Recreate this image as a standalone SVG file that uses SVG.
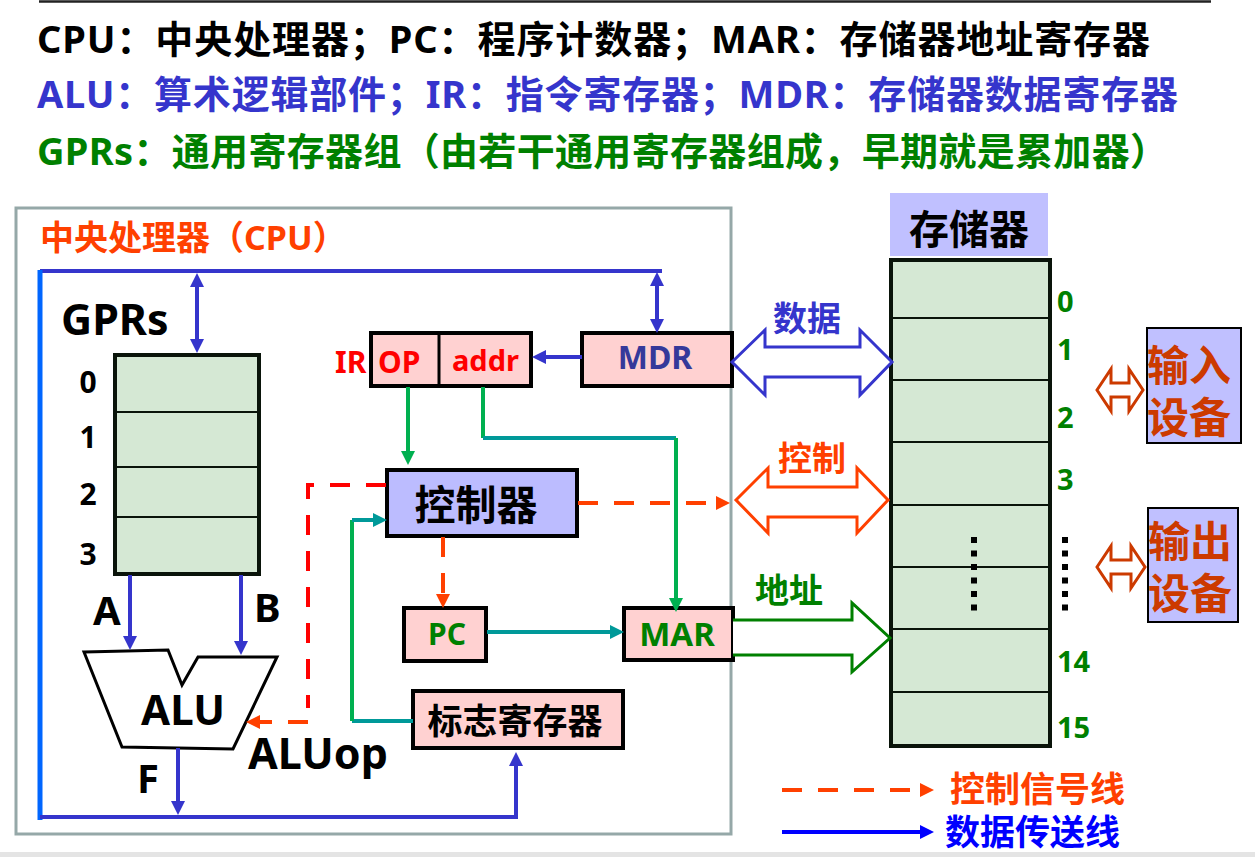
<svg xmlns="http://www.w3.org/2000/svg" width="1255" height="857" viewBox="0 0 1255 857">
<style>
text{font-family:"Noto Sans","Noto Sans CJK SC",sans-serif;font-weight:bold}
.reg{fill:#ffd1d1;stroke:#000;stroke-width:4}
.cell{fill:#d5e8d4;stroke:#0a140a;stroke-width:4}
.div{stroke:#0a140a;stroke-width:2}
.blue{stroke:#3535cc;stroke-width:4;fill:none}
.green{stroke:#00b050;stroke-width:4;fill:none}
.teal{stroke:#009999;stroke-width:4;fill:none}
.dash{stroke:#ff4000;stroke-width:4;fill:none;stroke-dasharray:20 16}
.dashr{stroke:#ff0000;stroke-width:4;fill:none;stroke-dasharray:20 16}
.dev{fill:#c0c0ff;stroke:#000;stroke-width:2}
.dot{fill:#000}
.mem{font-size:29px;fill:#008000}
</style>
<defs>
<marker id="mB" markerUnits="userSpaceOnUse" markerWidth="14" markerHeight="14" refX="2" refY="7" orient="auto-start-reverse"><path d="M0,0 L14,7 L0,14 z" fill="#3535cc"/></marker>
<marker id="mG" markerUnits="userSpaceOnUse" markerWidth="14" markerHeight="14" refX="2" refY="7" orient="auto-start-reverse"><path d="M0,0 L14,7 L0,14 z" fill="#00b050"/></marker>
<marker id="mT" markerUnits="userSpaceOnUse" markerWidth="14" markerHeight="14" refX="2" refY="7" orient="auto-start-reverse"><path d="M0,0 L14,7 L0,14 z" fill="#009999"/></marker>
<marker id="mR" markerUnits="userSpaceOnUse" markerWidth="14" markerHeight="14" refX="2" refY="7" orient="auto-start-reverse"><path d="M0,0 L14,7 L0,14 z" fill="#ff4000"/></marker>
<marker id="mL" markerUnits="userSpaceOnUse" markerWidth="14" markerHeight="14" refX="2" refY="7" orient="auto-start-reverse"><path d="M0,0 L14,7 L0,14 z" fill="#0000ff"/></marker>
</defs>
<rect width="1255" height="857" fill="#fff"/>
<line x1="39" y1="1.5" x2="1211" y2="1.5" stroke="#222" stroke-width="2.5"/>
<rect x="0" y="852" width="1255" height="5" fill="#e4e4e4"/>

<g id="header">
<text x="37" y="53" font-size="38" fill="#000" textLength="1113" lengthAdjust="spacing">CPU：中央处理器；PC：程序计数器；MAR：存储器地址寄存器</text>
<text x="37" y="108" font-size="38" fill="#3535cc" textLength="1141" lengthAdjust="spacing">ALU：算术逻辑部件；IR：指令寄存器；MDR：存储器数据寄存器</text>
<text x="37" y="165" font-size="38" fill="#008000" textLength="1131" lengthAdjust="spacing">GPRs：通用寄存器组（由若干通用寄存器组成，早期就是累加器）</text>
</g>

<g id="cpu">
<rect x="16" y="208" width="715" height="626" fill="none" stroke="#95a8a8" stroke-width="3"/>
<text x="40" y="250" font-size="34" fill="#ff4000">中央处理器（CPU）</text>
</g>

<g id="gprs">
<text x="61" y="335" font-size="43" fill="#000">GPRs</text>
<rect class="cell" x="115" y="355" width="144" height="219"/>
<line class="div" x1="115" y1="412" x2="259" y2="412"/>
<line class="div" x1="115" y1="467" x2="259" y2="467"/>
<line class="div" x1="115" y1="517" x2="259" y2="517"/>
<text x="88" y="393" font-size="30" text-anchor="middle">0</text>
<text x="88" y="448" font-size="30" text-anchor="middle">1</text>
<text x="88" y="505" font-size="30" text-anchor="middle">2</text>
<text x="88" y="565" font-size="30" text-anchor="middle">3</text>
<text x="93" y="625" font-size="40">A</text>
<text x="254" y="622" font-size="40">B</text>
</g>

<g id="alu">
<polygon points="84,652 168,650 182,685 198,657 277,657 233,749 122,747" fill="#fff" stroke="#000" stroke-width="3" stroke-linejoin="miter"/>
<text x="183" y="725" font-size="42" text-anchor="middle">ALU</text>
<text x="137" y="793" font-size="40">F</text>
<text x="248" y="769" font-size="43">ALUop</text>
</g>

<g id="ir">
<rect class="reg" x="371" y="333" width="160" height="53"/>
<line x1="439" y1="333" x2="439" y2="386" stroke="#000" stroke-width="3"/>
<text x="335" y="373" font-size="30" fill="#ff0000">IR</text>
<text x="378" y="373" font-size="30" fill="#ff0000">OP</text>
<text x="452" y="371" font-size="29" fill="#ff0000">addr</text>
</g>

<g id="mdr">
<rect class="reg" x="582" y="333" width="150" height="53"/>
<text x="655" y="369" font-size="32" fill="#35399a" text-anchor="middle">MDR</text>
</g>

<g id="controller">
<rect x="387" y="470" width="190" height="66" fill="#bcbcff" stroke="#000" stroke-width="4"/>
<text x="476" y="520" font-size="41" text-anchor="middle">控制器</text>
</g>

<g id="pc">
<rect class="reg" x="404" y="608" width="82" height="53"/>
<text x="447" y="645" font-size="30" fill="#008000" text-anchor="middle">PC</text>
</g>

<g id="mar">
<rect class="reg" x="624" y="608" width="109" height="52"/>
<text x="677" y="646" font-size="33" fill="#008000" text-anchor="middle">MAR</text>
</g>

<g id="flags">
<rect class="reg" x="413" y="691" width="210" height="57"/>
<text x="515" y="734" font-size="35" text-anchor="middle">标志寄存器</text>
</g>

<g id="memory">
<rect x="890" y="193" width="158" height="63" fill="#c0c0ff"/>
<text x="969" y="244" font-size="40" text-anchor="middle">存储器</text>
<rect class="cell" x="891" y="260" width="159" height="486"/>
<line class="div" x1="891" y1="318" x2="1050" y2="318"/>
<line class="div" x1="891" y1="380" x2="1050" y2="380"/>
<line class="div" x1="891" y1="442" x2="1050" y2="442"/>
<line class="div" x1="891" y1="505" x2="1050" y2="505"/>
<line class="div" x1="891" y1="567" x2="1050" y2="567"/>
<line class="div" x1="891" y1="629" x2="1050" y2="629"/>
<line class="div" x1="891" y1="692" x2="1050" y2="692"/>
<rect class="dot" x="971" y="537" width="6" height="6"/>
<rect class="dot" x="971" y="550.5" width="6" height="6"/>
<rect class="dot" x="971" y="564" width="6" height="6"/>
<rect class="dot" x="971" y="577.5" width="6" height="6"/>
<rect class="dot" x="971" y="591" width="6" height="6"/>
<rect class="dot" x="971" y="604.5" width="6" height="6"/>
<rect class="dot" x="1062" y="537" width="6" height="6"/>
<rect class="dot" x="1062" y="550.5" width="6" height="6"/>
<rect class="dot" x="1062" y="564" width="6" height="6"/>
<rect class="dot" x="1062" y="577.5" width="6" height="6"/>
<rect class="dot" x="1062" y="591" width="6" height="6"/>
<rect class="dot" x="1062" y="604.5" width="6" height="6"/>
<text class="mem" x="1057" y="312">0</text>
<text class="mem" x="1057" y="360">1</text>
<text class="mem" x="1057" y="428">2</text>
<text class="mem" x="1057" y="490">3</text>
<text class="mem" x="1057" y="672">14</text>
<text class="mem" x="1057" y="738">15</text>
</g>

<g id="input">
<rect class="dev" x="1147" y="328" width="94" height="115"/>
<text x="1147" y="381" font-size="42" fill="#cc3a00">输入</text>
<text x="1147" y="433" font-size="42" fill="#cc3a00">设备</text>
</g>

<g id="output">
<rect class="dev" x="1148" y="508" width="90" height="114"/>
<text x="1148" y="557" font-size="42" fill="#cc3a00">输出</text>
<text x="1148" y="609" font-size="42" fill="#cc3a00">设备</text>
</g>

<g id="connectors">
<path d="M40,271 H662" class="blue"/>
<path d="M40,270 V820" stroke="#0066ff" stroke-width="5" fill="none"/>
<path d="M40,817 H516 V764" class="blue" marker-end="url(#mB)"/>
<path d="M197,285 V341" class="blue" marker-start="url(#mB)" marker-end="url(#mB)"/>
<path d="M657,284 V321" class="blue" marker-start="url(#mB)" marker-end="url(#mB)"/>
<path d="M582,357 H544" class="blue" marker-end="url(#mB)"/>
<path d="M130,575 V638" class="blue" marker-end="url(#mB)"/>
<path d="M241,575 V643" class="blue" marker-end="url(#mB)"/>
<path d="M178,748 V803" class="blue" marker-end="url(#mB)"/>

<path d="M408,387 V453" class="green" marker-end="url(#mG)"/>
<path d="M483,387 V438" class="green"/>
<path d="M483,438 H676" class="teal"/>
<path d="M676,438 V600" class="green" marker-end="url(#mG)"/>
<path d="M413,721 H352" class="teal"/>
<path d="M352,721 V520" class="green"/>
<path d="M352,520 H375" class="teal" marker-end="url(#mT)"/>
<path d="M487,632 H612" class="teal" marker-end="url(#mT)"/>

<path d="M578,503 H718" class="dash" marker-end="url(#mR)"/>
<path d="M443,537 V596" class="dash" marker-end="url(#mR)"/>
<path d="M386,485 H308 V708" class="dashr"/>
<path d="M308,722 H258" class="dash" marker-end="url(#mR)"/>

<polygon points="732,362 765,330 765,347 860,347 860,330 892,362 860,395 860,377 765,377 765,395" fill="#fff" stroke="#3535cc" stroke-width="3"/>
<polygon points="736,500 768,468 768,487 857,487 857,468 888,500 857,533 857,517 768,517 768,533" fill="#fff" stroke="#ff4000" stroke-width="3"/>
<path d="M733,620 H852 V603 L890,638 L852,672 V655 H733" fill="#fff" stroke="#008000" stroke-width="3"/>
<polygon points="1097,390 1111,369 1111,383 1129,383 1129,369 1143,390 1129,411 1129,397 1111,397 1111,411" fill="#fff" stroke="#cc3a00" stroke-width="3"/>
<polygon points="1097,567 1111,546 1111,560 1131,560 1131,546 1145,567 1131,588 1131,574 1111,574 1111,588" fill="#fff" stroke="#cc3a00" stroke-width="3"/>
</g>

<g id="bus-labels">
<text x="773" y="331" font-size="34" fill="#3535cc">数据</text>
<text x="778" y="471" font-size="34" fill="#ff4000">控制</text>
<text x="755" y="603" font-size="34" fill="#008000">地址</text>
</g>

<g id="legend">
<path d="M782,790 H922" class="dash" marker-end="url(#mR)"/>
<path d="M782,832 H922" stroke="#0000ff" stroke-width="4" fill="none" marker-end="url(#mL)"/>
<text x="950" y="802" font-size="35" fill="#ff4000">控制信号线</text>
<text x="945" y="845" font-size="35" fill="#0000ff">数据传送线</text>
</g>
</svg>
